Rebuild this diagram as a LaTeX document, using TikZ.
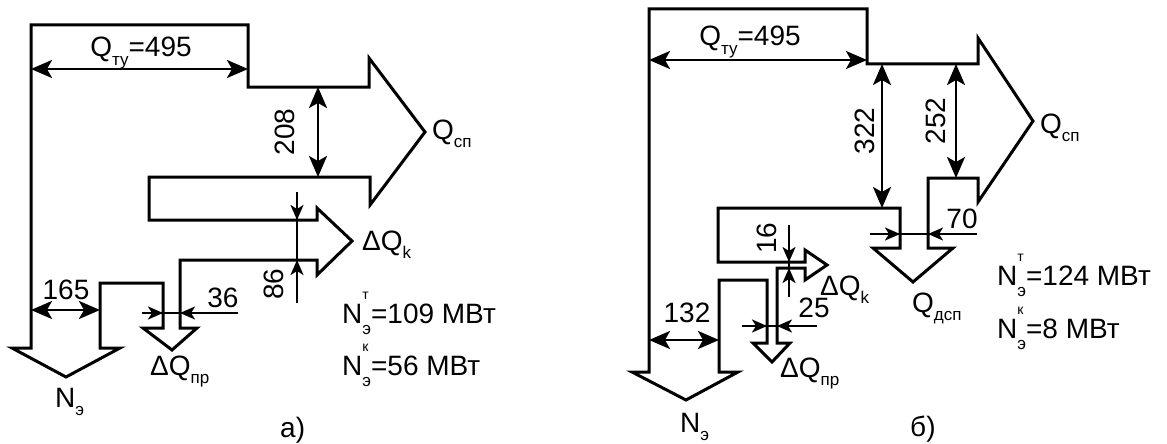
\documentclass[tikz,border=0pt]{standalone}
\usepackage{fontspec}
\setmainfont{Liberation Sans}
\usetikzlibrary{arrows.meta}
\newcommand{\lo}[1]{\raisebox{-0.3em}{\fontsize{17}{17}\selectfont #1}}
\newcommand{\lohi}[2]{\rlap{\raisebox{0.85em}{\fontsize{14}{14}\selectfont #1}}\raisebox{-0.4em}{\fontsize{17}{17}\selectfont #2}}
\tikzset{
  flow/.style={line width=3pt, line join=miter},
  dimline/.style={line width=2.4pt},
  bigtip/.style={{Stealth[length=21pt,width=18pt,inset=5pt]}-{Stealth[length=21pt,width=18pt,inset=5pt]}},
  smalltip/.style={-{Stealth[length=15pt,width=13pt,inset=4pt]}},
  lbl/.style={inner sep=0pt, font=\fontsize{28}{31}\selectfont},
}
\begin{document}
\begin{tikzpicture}[x=1pt,y=-1pt]
\useasboundingbox (0,0) rectangle (1167,444);

% ---------------- a) ----------------
\draw[flow] (12,348) -- (66,377) -- (120,348) -- (100,348) -- (100,283) -- (163,283)
  -- (163,328) -- (143,328) -- (172,350) -- (197,328) -- (180,328) -- (180,260)
  -- (317,260) -- (317,275) -- (352,241) -- (317,208) -- (317,220) -- (149,220)
  -- (149,177) -- (370,177) -- (370,205) -- (425,132) -- (369,58) -- (369,87)
  -- (248,87) -- (248,25) -- (31,25) -- (31,348) -- cycle;

\coordinate (aQl) at (31,69);   \coordinate (aQr) at (248,69);
\coordinate (a208t) at (318,87); \coordinate (a208b) at (318,177);
\coordinate (a86s) at (297,192); \coordinate (a86e) at (297,303);
\coordinate (a86u) at (297,220); \coordinate (a86d) at (297,260);
\coordinate (a165l) at (31,310); \coordinate (a165r) at (100,310);
\coordinate (a36s) at (142,313); \coordinate (a36e) at (238,313);
\coordinate (a36l) at (163,313); \coordinate (a36r) at (180,313);

\draw[dimline,bigtip] (aQl) -- (aQr);
\draw[dimline,bigtip] (a208t) -- (a208b);
\draw[dimline,bigtip] (a165l) -- (a165r);
\draw[dimline] (a86s) -- (a86e);
\draw[dimline,smalltip] (a86s) -- (a86u);
\draw[dimline,smalltip] (a86e) -- (a86d);
\draw[dimline] (a36s) -- (a36e);
\draw[dimline,smalltip] (a36s) -- (a36l);
\draw[dimline,smalltip] (a36e) -- (a36r);

\node[lbl,anchor=base] (taQ) at (141,57) {Q\lo{ту}=495};
\node[lbl,rotate=90] (ta208) at (285,132) {208};
\node[lbl,rotate=90] (ta86) at (274,284) {86};
\node[lbl] (ta165) at (66,290) {165};
\node[lbl] (ta36) at (223,298) {36};
\node[lbl,anchor=base west] (taQsp) at (432,139) {Q\lo{сп}};
\node[lbl,anchor=base west] (taQk) at (362,250) {ΔQ\lo{k}};
\node[lbl,anchor=base west] (taQpr) at (150,375) {ΔQ\lo{пр}};
\node[lbl,anchor=base west] (taN) at (55,407) {N\lo{э}};
\node[lbl,anchor=base west] (taNt) at (342,323) {N\lohi{т}{э}=109 МВт};
\node[lbl,anchor=base west] (taNk) at (342,375) {N\lohi{к}{э}=56 МВт};
\node[lbl,anchor=base west] (ta) at (280,437) {а)};

% ---------------- b) ----------------
\draw[flow] (632,372) -- (686,400) -- (738,372) -- (719,372) -- (719,280) -- (767,280)
  -- (767,343) -- (753,343) -- (772,362) -- (790,343) -- (777,343) -- (777,268)
  -- (805,268) -- (805,280) -- (827,265) -- (805,250) -- (805,262) -- (718,262)
  -- (718,208) -- (900,208) -- (900,248) -- (873,248) -- (913,282) -- (953,248)
  -- (928,248) -- (928,178) -- (978,178) -- (978,202) -- (1033,121) -- (978,38)
  -- (978,64) -- (867,64) -- (867,9) -- (649,9) -- (649,372) -- cycle;

\coordinate (bQl) at (649,60);   \coordinate (bQr) at (867,60);
\coordinate (b322t) at (882,64); \coordinate (b322b) at (882,208);
\coordinate (b252t) at (956,64); \coordinate (b252b) at (956,178);
\coordinate (b132l) at (649,340); \coordinate (b132r) at (719,340);
\coordinate (b70s) at (870,234); \coordinate (b70e) at (977,234);
\coordinate (b70l) at (900,234); \coordinate (b70r) at (928,234);
\coordinate (b16s) at (789,225); \coordinate (b16e) at (789,297);
\coordinate (b16u) at (789,262); \coordinate (b16d) at (789,268);
\coordinate (b25s) at (742,326); \coordinate (b25e) at (817,326);
\coordinate (b25l) at (767,326); \coordinate (b25r) at (777,326);

\draw[dimline,bigtip] (bQl) -- (bQr);
\draw[dimline,bigtip] (b322t) -- (b322b);
\draw[dimline,bigtip] (b252t) -- (b252b);
\draw[dimline,bigtip] (b132l) -- (b132r);
\draw[dimline] (b70s) -- (b70e);
\draw[dimline,smalltip] (b70s) -- (b70l);
\draw[dimline,smalltip] (b70e) -- (b70r);
\draw[dimline] (b16s) -- (b16e);
\draw[dimline,smalltip] (b16s) -- (b16u);
\draw[dimline,smalltip] (b16e) -- (b16d);
\draw[dimline] (b25s) -- (b25e);
\draw[dimline,smalltip] (b25s) -- (b25l);
\draw[dimline,smalltip] (b25e) -- (b25r);

\node[lbl,anchor=base] (tbQ) at (750,46) {Q\lo{ту}=495};
\node[lbl,rotate=90] (tb322) at (865,131) {322};
\node[lbl,rotate=90] (tb252) at (936,121) {252};
\node[lbl] (tb70) at (962,219) {70};
\node[lbl,rotate=90] (tb16) at (767,238) {16};
\node[lbl] (tb25) at (814,308) {25};
\node[lbl] (tb132) at (687,313) {132};
\node[lbl,anchor=base west] (tbQsp) at (1040,133) {Q\lo{сп}};
\node[lbl,anchor=base west] (tbQdsp) at (912,312) {Q\lo{дсп}};
\node[lbl,anchor=base west] (tbQk) at (820,295) {ΔQ\lo{k}};
\node[lbl,anchor=base west] (tbQpr) at (780,377) {ΔQ\lo{пр}};
\node[lbl,anchor=base west] (tbN) at (680,432) {N\lo{э}};
\node[lbl,anchor=base west] (tbNt) at (997,285) {N\lohi{т}{э}=124 МВт};
\node[lbl,anchor=base west] (tbNk) at (997,338) {N\lohi{к}{э}=8 МВт};
\node[lbl,anchor=base west] (tb) at (910,436) {б)};
\end{tikzpicture}
\end{document}
